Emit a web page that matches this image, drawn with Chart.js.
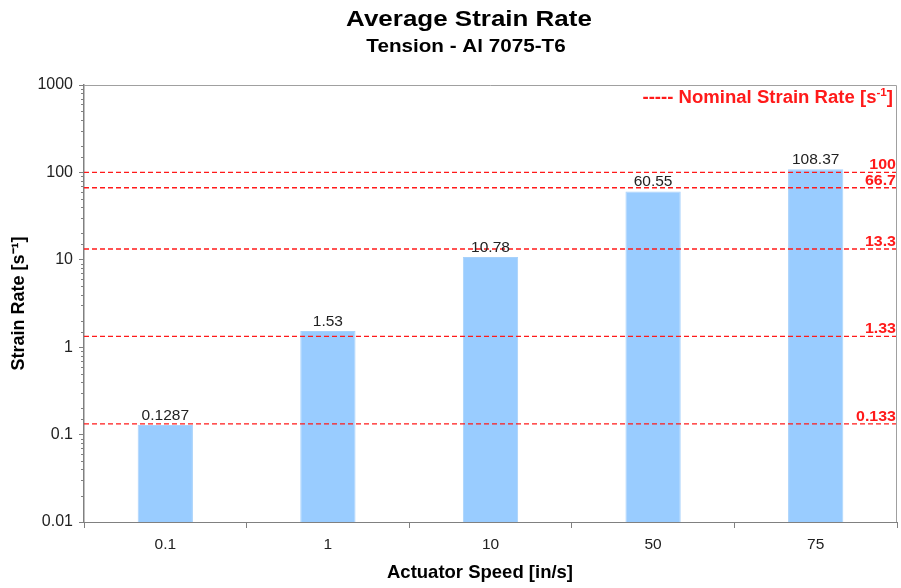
<!DOCTYPE html>
<html>
<head>
<meta charset="utf-8">
<script src="https://cdn.jsdelivr.net/npm/chart.js@4.4.1/dist/chart.umd.min.js"></script>
<style>
  html, body { margin: 0; padding: 0; background: #fff; }
  #wrap { width: 901px; height: 588px; }
</style>
</head>
<body>
<div id="wrap"><canvas id="c" width="901" height="588"></canvas></div>
<script>
// Actuator speeds (in/s) and the measured average strain rates (1/s)
const speeds = ['0.1', '1', '10', '50', '75'];
const avgStrainRate = [0.1287, 1.53, 10.78, 60.55, 108.37];
const avgStrainRateLabels = ['0.1287', '1.53', '10.78', '60.55', '108.37'];

// Nominal strain rates drawn as dashed reference lines
const nominalRates = [0.133, 1.33, 13.3, 66.7, 100];
const nominalLabels = ['0.133', '1.33', '13.3', '66.7', '100'];

// Decade labels on the log axis
const yTickLabels = { '-2': '0.01', '-1': '0.1', '0': '1', '1': '10', '2': '100', '3': '1000' };

const FONT = '"Liberation Sans", Arial, Helvetica, sans-serif';
const RED = '#ff1a1a';

function decade(v) {
  const l = Math.log10(v);
  const r = Math.round(l);
  return Math.abs(l - r) < 1e-6 ? r : null;
}

const nominalDatasets = nominalRates.map((v, i) => ({
  type: 'line',
  label: 'Nominal ' + nominalLabels[i],
  xAxisID: 'xl',
  data: [{ x: 0, y: v }, { x: 1, y: v }],
  borderColor: RED,
  borderWidth: 1.3,
  borderDash: [5, 3],
  pointRadius: 0,
  fill: false,
  order: 1
}));

// text drawn with a horizontal stretch factor
function stretchedText(ctx, text, x, y, sx, align) {
  ctx.save();
  const w = ctx.measureText(text).width * sx;
  let left = x;
  if (align === 'center') left = x - w / 2;
  else if (align === 'right') left = x - w;
  ctx.translate(left, y);
  ctx.scale(sx, 1);
  ctx.textAlign = 'left';
  ctx.fillText(text, 0, 0);
  ctx.restore();
}

// Titles, frame, minor ticks, value labels and the legend line
const decorations = {
  id: 'decorations',
  afterDraw(chart) {
    const { ctx, chartArea: a, scales } = chart;
    const y = scales.y;
    ctx.save();

    // top and right frame of the plot area
    ctx.strokeStyle = '#a0a0a0';
    ctx.lineWidth = 1;
    ctx.beginPath();
    ctx.moveTo(a.left, a.top + 0.5);
    ctx.lineTo(a.right - 0.5, a.top + 0.5);
    ctx.lineTo(a.right - 0.5, a.bottom);
    ctx.stroke();

    // minor ticks of the log axis
    ctx.strokeStyle = '#808080';
    ctx.beginPath();
    y.ticks.forEach(t => {
      if (decade(t.value) === null) {
        const py = Math.round(y.getPixelForValue(t.value)) + 0.5;
        ctx.moveTo(a.left - 3, py);
        ctx.lineTo(a.left, py);
      }
    });
    ctx.stroke();

    // chart titles
    ctx.fillStyle = '#000';
    ctx.textBaseline = 'alphabetic';
    ctx.font = 'bold 22px ' + FONT;
    stretchedText(ctx, 'Average Strain Rate', 469, 26, 1.18, 'center');
    ctx.font = 'bold 17.5px ' + FONT;
    stretchedText(ctx, 'Tension - Al 7075-T6', 466, 52, 1.18, 'center');

    // x axis title
    ctx.font = 'bold 18.5px ' + FONT;
    stretchedText(ctx, 'Actuator Speed [in/s]', 480, 578, 1.0, 'center');

    // value labels above the bars
    const meta = chart.getDatasetMeta(0);
    ctx.font = '15.5px ' + FONT;
    ctx.fillStyle = '#222';
    meta.data.forEach((bar, i) => {
      stretchedText(ctx, avgStrainRateLabels[i], bar.x, bar.y - 5, 1.0, 'center');
    });

    // nominal values at the right end of each dashed line
    ctx.font = 'bold 14px ' + FONT;
    ctx.fillStyle = RED;
    nominalRates.forEach((v, i) => {
      stretchedText(ctx, nominalLabels[i], a.right - 1, y.getPixelForValue(v) - 3, 1.14, 'right');
    });

    // legend entry for the dashed lines
    const mainFont = 'bold 17.5px ' + FONT;
    const supFont = 'bold 11px ' + FONT;
    const parts = [
      { t: '----- Nominal Strain Rate [s', f: mainFont, dy: 0 },
      { t: '-1', f: supFont, dy: -7 },
      { t: ']', f: mainFont, dy: 0 }
    ];
    const sx = 1.06;
    let w = 0;
    parts.forEach(p => { ctx.font = p.f; w += ctx.measureText(p.t).width * sx; });
    let x = a.right - 4 - w;
    parts.forEach(p => {
      ctx.font = p.f;
      stretchedText(ctx, p.t, x, 103 + p.dy, sx, 'left');
      x += ctx.measureText(p.t).width * sx;
    });

    ctx.restore();
  }
};

new Chart(document.getElementById('c'), {
  type: 'bar',
  data: {
    labels: speeds,
    datasets: [{
      type: 'bar',
      label: 'Average Strain Rate',
      data: avgStrainRate,
      backgroundColor: '#99ccff',
      borderColor: '#a8d2fb',
      borderWidth: 1,
      grouped: false,
      barPercentage: 0.34,
      categoryPercentage: 1,
      order: 2
    }, ...nominalDatasets]
  },
  options: {
    responsive: false,
    animation: false,
    layout: { padding: { top: 85, right: 4, left: 0, bottom: 0 } },
    plugins: {
      legend: { display: false },
      tooltip: { enabled: false },
      title: { display: false }
    },
    scales: {
      x: {
        type: 'category',
        offset: true,
        grid: {
          offset: true,
          drawOnChartArea: false,
          tickLength: 6,
          tickColor: '#808080'
        },
        border: { color: '#808080', width: 1 },
        ticks: { color: '#222', font: { family: FONT, size: 15.5 }, padding: 7 },
        afterFit(s) { s.height = 66; }
      },
      xl: {
        type: 'linear',
        display: false,
        offset: false,
        grid: { offset: false },
        min: 0,
        max: 1
      },
      y: {
        type: 'logarithmic',
        min: 0.01,
        max: 1000,
        grid: {
          drawOnChartArea: false,
          tickLength: 5,
          tickColor: ctx => (ctx.tick && decade(ctx.tick.value) !== null) ? '#808080' : 'rgba(0,0,0,0)'
        },
        border: { color: '#808080', width: 1.5 },
        ticks: {
          autoSkip: false,
          color: '#222',
          padding: 6,
          font: { family: FONT, size: 16 },
          callback: v => {
            const d = decade(v);
            return d === null ? '' : yTickLabels[String(d)];
          }
        },
        title: {
          display: true,
          text: 'Strain Rate [s\u207B\u00B9]',
          color: '#000',
          font: { family: FONT, size: 18, weight: 'bold' },
          padding: { top: 8, bottom: 0 }
        },
        afterFit(s) { s.width = 84; }
      }
    }
  },
  plugins: [decorations]
});
</script>
</body>
</html>
